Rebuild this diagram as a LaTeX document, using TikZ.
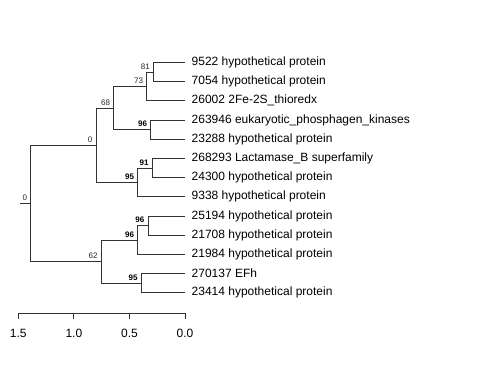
\documentclass[tikz,border=0pt]{standalone}
\usepackage{fontspec}
\setmainfont{Liberation Sans}

\begin{document}
\begin{tikzpicture}[x=1pt,y=-1pt,
    branch/.style={draw=black!80,line width=0.8pt},
    tiplabel/.style={anchor=west,inner sep=0pt,font=\fontsize{12}{14}\selectfont},
    bslabel/.style={anchor=south east,inner sep=0pt,xshift=-3.5pt,yshift=2.5pt,
      font=\fontsize{8}{9}\selectfont,text=black!85},
    bsbold/.style={bslabel,font=\fontsize{8}{9}\selectfont\bfseries,text=black},
    ticklabel/.style={inner sep=0pt,font=\fontsize{12}{14}\selectfont}]
  \useasboundingbox (0,0) rectangle (480,384);

  % leaves
  \foreach \i/\t in {1/9522 hypothetical protein,2/7054 hypothetical protein,
    3/26002 2Fe-2S\_thioredx,4/263946 eukaryotic\_phosphagen\_kinases,
    5/23288 hypothetical protein,6/268293 Lactamase\_B superfamily,
    7/24300 hypothetical protein,8/9338 hypothetical protein,
    9/25194 hypothetical protein,10/21708 hypothetical protein,
    11/21984 hypothetical protein,12/270137 EFh,13/23414 hypothetical protein}{
    \coordinate (t\i) at (185,{62.3+19.2*(\i-1)});
    \node[tiplabel] (l\i) at (191.5,{62.3+19.2*(\i-1)}) {\t};
  }

  % inner nodes
  \coordinate (n81) at (153.5,71.9);
  \coordinate (n73) at (146.7,86.3);
  \coordinate (n96a) at (150.7,129.5);
  \coordinate (n68) at (113.8,107.9);
  \coordinate (n91) at (152.3,167.9);
  \coordinate (n95a) at (137.7,182.3);
  \coordinate (n0) at (96,145.1);
  \coordinate (n96c) at (148,225.5);
  \coordinate (n96b) at (137.7,239.9);
  \coordinate (n95b) at (141.3,283.1);
  \coordinate (n62) at (101.3,261.5);
  \coordinate (root) at (30.7,203.3);
  \coordinate (stub) at (20,203.3);

  \foreach \p/\c in {n81/t1,n81/t2,n73/n81,n73/t3,n96a/t4,n96a/t5,
    n68/n73,n68/n96a,n91/t6,n91/t7,n95a/n91,n95a/t8,n0/n68,n0/n95a,
    n96c/t9,n96c/t10,n96b/n96c,n96b/t11,n95b/t12,n95b/t13,
    n62/n96b,n62/n95b,root/n0,root/n62}{
    \draw[branch] (\p) |- (\c);
  }
  \draw[branch] (stub) -- (root);

  % support values
  \foreach \n/\v/\s in {n81/81/bslabel,n73/73/bslabel,n96a/96/bsbold,
    n68/68/bslabel,n0/0/bslabel,n91/91/bsbold,n95a/95/bsbold,
    root/0/bslabel,n96c/96/bsbold,n96b/96/bsbold,n62/62/bslabel,
    n95b/95/bsbold}{
    \node[\s] (b\n) at (\n) {\v};
  }

  % scale axis
  \coordinate (a0) at (18.3,313);
  \coordinate (a1) at (185,313);
  \draw[branch] (a0) -- (a1);
  \foreach \i/\v in {0/1.5,1/1.0,2/0.5,3/0.0}{
    \coordinate (tk\i) at ({18.3+55.57*\i},313);
    \draw[branch] (tk\i) -- ++(0,5.5);
    \node[ticklabel] (tl\i) at ({18.3+55.57*\i},333) {\v};
  }
\end{tikzpicture}
\end{document}
